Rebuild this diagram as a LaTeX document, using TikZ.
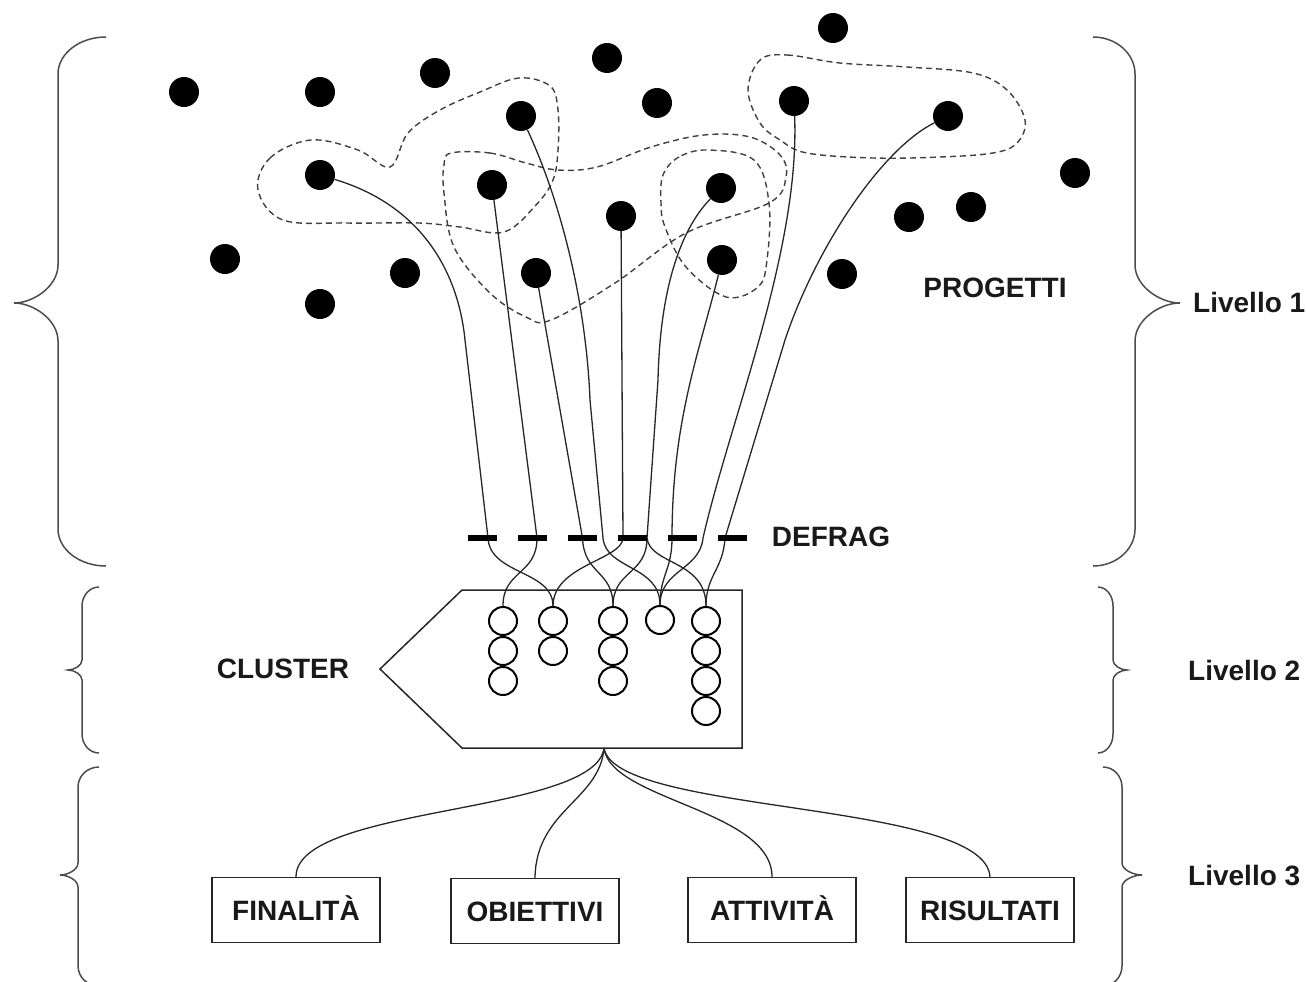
\documentclass[tikz,border=0pt]{standalone}
\usepackage{fontspec}
\setmainfont{Liberation Sans}
\pgfdeclarelayer{bg}
\pgfsetlayers{bg,main}
\newcommand{\lvlbrace}[8]{%
 \draw[bracestyle] (#1,#4) .. controls ({#1+0.552*(#2-#1)},#4) and (#2,{#4+0.448*#7}) .. (#2,{#4+#7})
 -- (#2,{#5-#8}) .. controls (#2,{#5-0.448*#8}) and ({#3+0.448*(#2-#3)},#5) .. (#3,#5)
 .. controls ({#3+0.448*(#2-#3)},#5) and (#2,{#5+0.448*#8}) .. (#2,{#5+#8})
 -- (#2,{#6-#7}) .. controls (#2,{#6-0.448*#7}) and ({#1+0.552*(#2-#1)},#6) .. (#1,#6);}
\begin{document}
\begin{tikzpicture}[x=1pt,y=-1pt,
  dot/.style={circle,fill=black,inner sep=0pt,minimum size=30pt},
  bar/.style={rectangle,fill=black,inner sep=0pt,minimum width=29pt,minimum height=6pt},
  ring/.style={circle,draw=black,line width=2pt,inner sep=0pt,minimum size=28pt},
  wire/.style={draw=black!85,line width=1.3pt},
  blob/.style={draw=black!75,line width=1.4pt,dash pattern=on 6pt off 4pt},
  lbl/.style={font=\bfseries\fontsize{28}{32}\selectfont,text=black!90,inner sep=0pt},
  boxnode/.style={draw=black!85,line width=1.4pt,minimum width=168pt,minimum height=65pt,inner sep=0pt,text height=21pt,text depth=0pt,font=\bfseries\fontsize{28}{32}\selectfont,text=black!90},
  bracestyle/.style={draw=black!70,line width=1.5pt}]
\useasboundingbox (0,0) rectangle (1306,982);

% dots
\node[dot] (d1) at (184,92) {};
\node[dot] (d2) at (320,92) {};
\node[dot] (d3) at (435,73) {};
\node[dot] (d4) at (521,116) {};
\node[dot] (d5) at (607,58) {};
\node[dot] (d6) at (657,103) {};
\node[dot] (d7) at (833,28) {};
\node[dot] (d8) at (794,101) {};
\node[dot] (d9) at (948,116) {};
\node[dot] (d10) at (320,175) {};
\node[dot] (d11) at (492,185) {};
\node[dot] (d12) at (721,188) {};
\node[dot] (d13) at (621,216) {};
\node[dot] (d14) at (1075,173) {};
\node[dot] (d15) at (909,217) {};
\node[dot] (d16) at (971,207) {};
\node[dot] (d17) at (225,259) {};
\node[dot] (d18) at (405,273) {};
\node[dot] (d19) at (320,304) {};
\node[dot] (d20) at (536,273) {};
\node[dot] (d21) at (722,260) {};
\node[dot] (d22) at (842,274) {};

% defrag bars
\node[bar] (b1) at (482.5,538) {};
\node[bar] (b2) at (532.5,538) {};
\node[bar] (b3) at (582.5,538) {};
\node[bar] (b4) at (632.5,538) {};
\node[bar] (b5) at (682.5,538) {};
\node[bar] (b6) at (732.5,538) {};

% cluster
\draw[line width=1.5pt,draw=black!85] (462,590) -- (742,590) -- (742,748) -- (462,748) -- (380,669) -- cycle;
\coordinate (cb) at (604,748);
\node[ring] (c1a) at (503,621) {};
\node[ring] (c1b) at (503,651) {};
\node[ring] (c1c) at (503,681) {};
\node[ring] (c2a) at (553,621) {};
\node[ring] (c2b) at (553,651) {};
\node[ring] (c3a) at (613,621) {};
\node[ring] (c3b) at (613,651) {};
\node[ring] (c3c) at (613,681) {};
\node[ring] (c4a) at (660,620) {};
\node[ring] (c5a) at (706,621) {};
\node[ring] (c5b) at (706,651) {};
\node[ring] (c5c) at (706,681) {};
\node[ring] (c5d) at (706,711) {};

% labels
\node[lbl] (progetti) at (995,288) {PROGETTI};
\node[lbl] (defrag) at (831,537) {DEFRAG};
\node[lbl] (cluster) at (283,669) {CLUSTER};
\node[lbl,anchor=west] (liv1) at (1193,302) {Livello 1};
\node[lbl,anchor=west] (liv2) at (1188,670) {Livello 2};
\node[lbl,anchor=west] (liv3) at (1188,876) {Livello 3};

% boxes
\node[boxnode] (fin) at (296,910) {FINALITÀ};
\node[boxnode] (obi) at (535,911) {OBIETTIVI};
\node[boxnode] (att) at (772,910) {ATTIVITÀ};
\node[boxnode] (ris) at (990,910) {RISULTATI};

\begin{pgfonlayer}{bg}
% dashed groupings
\draw[blob] plot[smooth cycle,tension=0.6] coordinates {(258,190) (270,158) (311,140) (358,150) (390,167) (408,133) (440,110) (480,92) (519,78) (550,86) (558,110) (558,150) (553,180) (536,205) (504,232) (460,227) (419,223) (347,223) (283,220)};
\draw[blob] plot[smooth cycle,tension=0.6] coordinates {(451,153) (490,153) (526,163) (558,170) (597,167) (651,147) (704,135) (750,137) (780,155) (786,177) (769,203) (686,233) (615,283) (551,320) (526,317) (490,293) (454,247) (444,193) (444,165)};
\draw[blob] plot[smooth cycle,tension=0.6] coordinates {(708,150) (679,157) (663,175) (661,203) (665,227) (686,267) (726,297) (758,287) (767,260) (769,203) (754,160)};
\draw[blob] plot[smooth cycle,tension=0.6] coordinates {(760,60) (787,55) (840,63) (907,67) (973,73) (1007,90) (1025,120) (1017,143) (993,153) (940,157) (873,158) (807,153) (780,140) (760,123) (748,90)};

% wires from projects through defrag to clusters
\draw[wire] (d10) .. controls (420,205) and (458,270) .. (465,340) -- ([xshift=5.5pt]b1.center)
  .. controls (490,575) and (553,570) .. (c2a.north);
\draw[wire] (d11) -- ([xshift=4.5pt]b2.center)
  .. controls (537,575) and (503,570) .. (c1a.north);
\draw[wire] (d20) -- (b3.center)
  .. controls (584,575) and (613,570) .. (c3a.north);
\draw[wire] (d4) .. controls (560,200) and (586,300) .. (590,400) -- ([xshift=20.5pt]b3.center)
  .. controls (606,570) and (660,565) .. (c4a.north);
\draw[wire] (d13) -- ([xshift=-9.5pt]b4.center)
  .. controls (622,560) and (553,565) .. (c2a.north);
\draw[wire] (d12) .. controls (680,230) and (660,290) .. (658,380) -- ([xshift=14.5pt]b4.center)
  .. controls (647,575) and (613,570) .. (c3a.north);
\draw[wire] ([xshift=14.5pt]b4.center) .. controls (650,565) and (706,560) .. (c5a.north);
\draw[wire] (d21) .. controls (700,350) and (672,420) .. ([xshift=-10.5pt]b5.center)
  .. controls (672,570) and (660,575) .. (c4a.north);
\draw[wire] (d8) .. controls (800,250) and (730,420) .. ([xshift=20.5pt]b5.center)
  .. controls (700,570) and (660,570) .. (c4a.north);
\draw[wire] (d9) .. controls (880,150) and (815,250) .. (785,340) -- ([xshift=-7.5pt]b6.center)
  .. controls (723,570) and (706,575) .. (c5a.north);

% cluster to components
\draw[wire] (cb) .. controls (596,815) and (296,805) .. (fin.north);
\draw[wire] (cb) .. controls (600,800) and (536,810) .. (obi.north);
\draw[wire] (cb) .. controls (610,800) and (772,810) .. (att.north);
\draw[wire] (cb) .. controls (615,815) and (985,800) .. (ris.north);
\end{pgfonlayer}

% braces
\lvlbrace{106}{58}{14}{37}{303}{566}{37}{38}
\lvlbrace{1093}{1135}{1180}{37}{303}{566}{37}{38}
\lvlbrace{99}{82}{68}{587}{670}{753}{19}{10}
\lvlbrace{1098}{1113}{1127}{587}{670}{753}{19}{10}
\lvlbrace{99}{78}{60}{767}{875}{986}{20}{12}
\lvlbrace{1103}{1122}{1142}{767}{875}{986}{20}{12}
\end{tikzpicture}
\end{document}
